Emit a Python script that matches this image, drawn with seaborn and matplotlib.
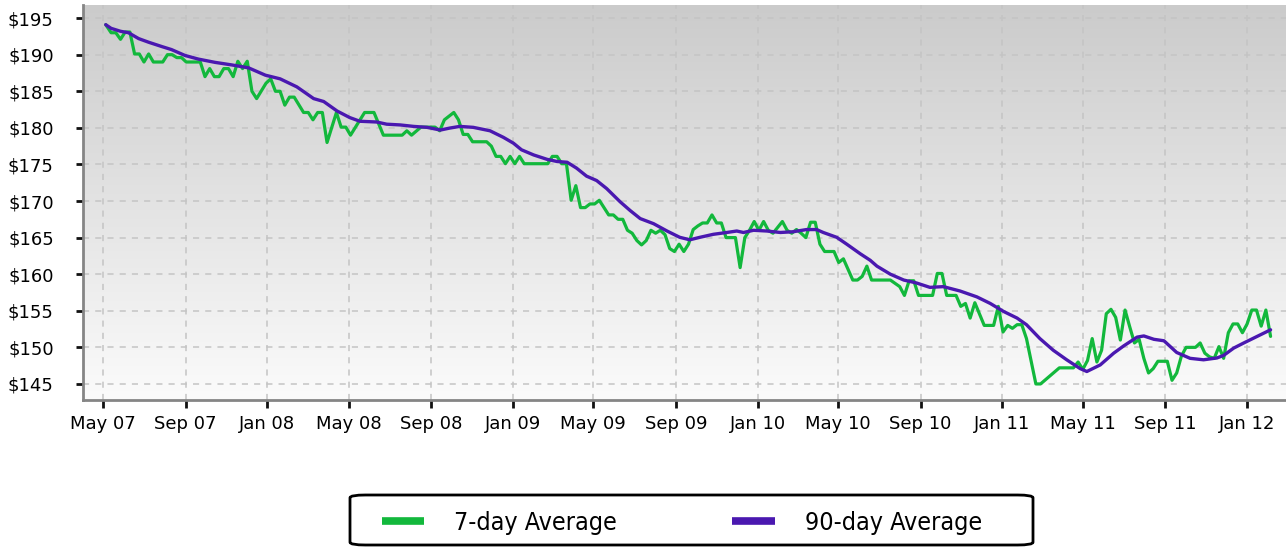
import numpy as np
import pandas as pd
import matplotlib
matplotlib.use('Agg')
import matplotlib.pyplot as plt
import matplotlib.dates as mdates
from matplotlib.colors import LinearSegmentedColormap
from matplotlib.ticker import FuncFormatter
from matplotlib.patches import FancyBboxPatch
import seaborn as sns

# days since 2007-05-01
base_date = pd.Timestamp('2007-05-01')

day7 = [4, 12, 19, 26, 33, 40, 47, 54, 61, 68, 75, 89, 96, 103, 110, 117, 124, 145, 152, 159,
        166, 173, 180, 187, 194, 201, 208, 215, 222, 229, 243, 250, 257, 264, 271, 278, 285, 299,
        306, 313, 320, 327, 334, 348, 355, 362, 369, 390, 404, 418, 446, 453, 460, 474, 495, 502,
        509, 523, 530, 537, 544, 551, 572, 579, 586, 593, 600, 607, 614, 621, 628, 663, 670, 677,
        684, 691, 698, 705, 712, 719, 726, 733, 740, 754, 761, 768, 775, 782, 789, 796, 803, 810,
        817, 824, 831, 838, 845, 852, 859, 866, 873, 880, 887, 894, 901, 908, 915, 922, 929, 943,
        950, 957, 964, 971, 978, 985, 992, 999, 1013, 1020, 1027, 1034, 1041, 1048, 1055, 1062,
        1069, 1076, 1090, 1097, 1104, 1118, 1125, 1132, 1139, 1146, 1174, 1188, 1195, 1202, 1209,
        1216, 1237, 1244, 1251, 1258, 1272, 1279, 1286, 1293, 1300, 1314, 1328, 1335, 1342, 1349,
        1356, 1363, 1370, 1377, 1391, 1398, 1426, 1447, 1454, 1461, 1468, 1475, 1482, 1489, 1496,
        1503, 1510, 1517, 1524, 1531, 1538, 1545, 1552, 1559, 1566, 1573, 1587, 1594, 1601, 1608,
        1615, 1629, 1636, 1643, 1650, 1657, 1664, 1671, 1678, 1685, 1692, 1699, 1706, 1713, 1720,
        1727, 1734, 1741]
price7 = [194.1, 193.0, 193.0, 192.1, 193.1, 193.1, 190.1, 190.1, 189.0, 190.1, 189.0, 189.0, 190.0,
          190.0, 189.6, 189.6, 189.0, 189.0, 187.0, 188.1, 187.0, 187.0, 188.1, 188.1, 187.0, 189.1,
          188.1, 189.1, 185.0, 184.0, 186.1, 186.7, 185.0, 185.0, 183.1, 184.2, 184.2, 182.1, 182.1,
          181.1, 182.1, 182.1, 178.0, 182.1, 180.1, 180.1, 179.0, 182.1, 182.1, 179.0, 179.0, 179.6,
          179.0, 180.1, 180.1, 179.6, 181.1, 182.1, 181.1, 179.1, 179.1, 178.1, 178.1, 177.5, 176.1,
          176.1, 175.1, 176.1, 175.1, 176.1, 175.1, 175.1, 176.1, 176.1, 175.1, 175.1, 170.1, 172.1,
          169.1, 169.1, 169.6, 169.6, 170.1, 168.1, 168.1, 167.5, 167.5, 166.0, 165.6, 164.6, 164.0,
          164.6, 166.0, 165.6, 166.0, 165.4, 163.5, 163.1, 164.1, 163.1, 164.1, 166.1, 166.6, 167.0,
          167.0, 168.1, 167.0, 167.0, 165.0, 165.0, 160.9, 165.0, 166.0, 167.2, 166.0, 167.2, 166.0,
          165.6, 167.2, 166.0, 165.6, 166.1, 165.6, 165.0, 167.1, 167.1, 164.1, 163.1, 163.1, 161.6,
          162.1, 159.2, 159.2, 159.7, 161.1, 159.2, 159.2, 158.3, 157.1, 159.1, 159.1, 157.1, 157.1,
          160.1, 160.1, 157.1, 157.1, 155.6, 156.0, 154.0, 156.1, 153.0, 153.0, 155.6, 152.1, 153.0,
          152.6, 153.1, 153.1, 151.2, 145.0, 145.0, 147.2, 147.2, 148.0, 147.0, 148.2, 151.2, 148.0,
          149.6, 154.6, 155.2, 154.1, 151.0, 155.1, 152.8, 150.6, 151.1, 148.5, 146.5, 147.1, 148.1,
          148.1, 145.5, 146.5, 148.8, 150.0, 150.0, 150.6, 149.2, 148.7, 148.5, 150.1, 148.5, 152.0,
          153.2, 153.2, 152.0, 153.2, 155.1, 155.1, 152.9, 155.1, 151.5]

day90 = [4, 12, 26, 38, 53, 68, 88, 102, 122, 142, 167, 192, 217, 242, 264, 289, 314, 329, 349,
         368, 383, 408, 423, 443, 463, 483, 503, 517, 532, 552, 577, 597, 612, 624, 642, 662, 677,
         692, 706, 721, 736, 751, 771, 786, 801, 821, 841, 860, 875, 890, 910, 930, 945, 955, 970,
         990, 1010, 1029, 1049, 1064, 1074, 1094, 1109, 1129, 1144, 1154, 1174, 1194, 1213, 1233,
         1253, 1278, 1303, 1323, 1343, 1363, 1377, 1397, 1417, 1437, 1457, 1467, 1487, 1507, 1522,
         1542, 1552, 1567, 1582, 1601, 1621, 1641, 1661, 1671, 1686, 1701, 1721, 1741]
price90 = [194.1, 193.6, 193.2, 193.0, 192.2, 191.7, 191.1, 190.7, 189.9, 189.4, 188.95, 188.6, 188.2,
           187.2, 186.7, 185.6, 184.0, 183.6, 182.3, 181.4, 180.9, 180.8, 180.5, 180.4, 180.2, 180.07,
           179.7, 179.97, 180.2, 180.07, 179.6, 178.7, 177.9, 177.0, 176.3, 175.7, 175.4, 175.3, 174.5,
           173.4, 172.8, 171.7, 169.9, 168.7, 167.6, 166.9, 165.9, 165.04, 164.7, 165.04, 165.45, 165.7,
           165.9, 165.7, 166.0, 165.9, 165.7, 165.8, 166.1, 166.1, 165.7, 165.04, 164.1, 162.8, 161.9,
           161.1, 160.0, 159.2, 158.8, 158.2, 158.3, 157.7, 156.9, 156.0, 154.9, 154.0, 153.1, 151.2,
           149.6, 148.3, 147.1, 146.7, 147.6, 149.2, 150.2, 151.4, 151.56, 151.1, 150.9, 149.3, 148.5,
           148.3, 148.55, 148.9, 149.9, 150.6, 151.5, 152.4]

y_ticks = [145, 150, 155, 160, 165, 170, 175, 180, 185, 190, 195]
series_names = ['7-day Average', '90-day Average']
series_colors = ['#12B83C', '#4A18B0']

df7 = pd.DataFrame({'date': base_date + pd.to_timedelta(day7, unit='D'), 'price': price7})
df90 = pd.DataFrame({'date': base_date + pd.to_timedelta(day90, unit='D'), 'price': price90})

sns.set_style('white')
plt.rcParams['font.family'] = ['DejaVu Sans']

fig = plt.figure(figsize=(12.86, 5.48), dpi=100)
ax = fig.add_axes([0.0645, 0.27, 0.9355, 0.721])

# gradient background
grad = LinearSegmentedColormap.from_list('bg', ['#fbfbfb', '#cbcbcb'])
ax.imshow(np.linspace(0, 1, 256).reshape(-1, 1), cmap=grad, origin='lower', aspect='auto',
          extent=[0, 1, 0, 1], transform=ax.transAxes, zorder=0)

sns.lineplot(data=df7, x='date', y='price', color=series_colors[0], linewidth=2.3,
             label=series_names[0], ax=ax, zorder=3)
sns.lineplot(data=df90, x='date', y='price', color=series_colors[1], linewidth=2.4,
             label=series_names[1], ax=ax, zorder=4)

ax.set_xlim(base_date - pd.Timedelta(days=30), base_date + pd.Timedelta(days=1764))
ax.set_ylim(142.8, 196.8)
ax.set_yticks(y_ticks)
ax.yaxis.set_major_formatter(FuncFormatter(lambda v, p: f'${v:.0f}'))
ax.xaxis.set_major_locator(mdates.MonthLocator(bymonth=[1, 5, 9]))
ax.xaxis.set_major_formatter(mdates.DateFormatter('%b %y'))
ax.set_xlabel('')
ax.set_ylabel('')

ax.grid(True, color='#c4c4c4', linestyle=(0, (4, 4)), linewidth=1.1, zorder=1)
ax.set_axisbelow(True)
for side in ['top', 'right']:
    ax.spines[side].set_visible(False)
for side in ['left', 'bottom']:
    ax.spines[side].set_color('#858585')
    ax.spines[side].set_linewidth(2)
ax.tick_params(axis='y', direction='out', length=5, width=2, color='#111111',
               labelsize=13, labelcolor='black', pad=16, left=True)
ax.tick_params(axis='x', direction='out', length=6, width=2, color='#111111',
               labelsize=13, labelcolor='black', pad=5, bottom=True)

# legend box drawn separately, entries placed inside
ax.legend().remove()
box = FancyBboxPatch((350 / 1286, 3 / 548), 683 / 1286, 50 / 548,
                     boxstyle='round,pad=0,rounding_size=0.012', transform=fig.transFigure,
                     facecolor='white', edgecolor='black', linewidth=2, mutation_aspect=548 / 1286)
fig.patches.append(box)
handles, labels = ax.get_legend_handles_labels()
leg = fig.legend(handles, labels, ncol=2, loc='center',
                 bbox_to_anchor=(682 / 1286, 25 / 548),
                 prop={'family': ['DejaVu Sans'], 'stretch': 'condensed', 'size': 18},
                 handlelength=1.7, handletextpad=1.2, columnspacing=4.6,
                 frameon=False, labelcolor='black')
for line in leg.get_lines():
    line.set_linewidth(5.5)
    line.set_solid_capstyle('butt')

fig.savefig('out.png', dpi=100)
